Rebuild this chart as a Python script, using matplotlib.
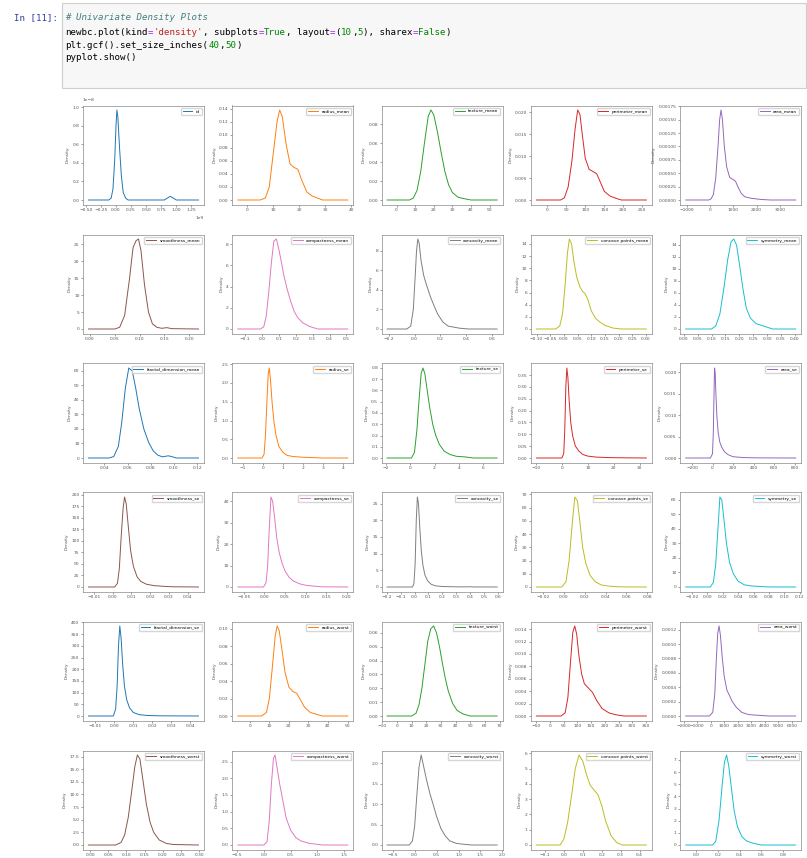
import matplotlib
matplotlib.use("Agg")
import matplotlib.pyplot as plt
from matplotlib.ticker import MaxNLocator
from matplotlib.patches import Rectangle

# ---- data (density curve knots) ----
columns = ['id', 'radius_mean', 'texture_mean', 'perimeter_mean', 'area_mean',
           'smoothness_mean', 'compactness_mean', 'concavity_mean', 'concave points_mean', 'symmetry_mean',
           'fractal_dimension_mean', 'radius_se', 'texture_se', 'perimeter_se', 'area_se',
           'smoothness_se', 'compactness_se', 'concavity_se', 'concave points_se', 'symmetry_se',
           'fractal_dimension_se', 'radius_worst', 'texture_worst', 'perimeter_worst', 'area_worst',
           'smoothness_worst', 'compactness_worst', 'concavity_worst', 'concave points_worst', 'symmetry_worst']

id_x = [-4.556e8, -1.2e8, -0.8e8, -0.5e8, -0.2e8, 0.0, 0.15e8, 0.3e8, 0.6e8, 0.9e8, 1.2e8, 1.6e8, 2.0e8,
        8.0e8, 8.5e8, 9.0e8, 9.5e8, 10.0e8, 13.67e8]
id_y = [0, 0, 0.02e-8, 0.12e-8, 0.45e-8, 0.8e-8, 0.97e-8, 0.9e-8, 0.55e-8, 0.25e-8, 0.08e-8, 0.02e-8, 0,
        0, 0.02e-8, 0.04e-8, 0.02e-8, 0, 0]

radius_mean_x = [-3.58, 5, 7, 8.5, 10, 11.5, 12.5, 13.5, 15, 16.5, 18, 19.5, 21, 23, 25, 27, 29, 38.67]
radius_mean_y = [0, 0, 0.003, 0.02, 0.07, 0.12, 0.138, 0.128, 0.085, 0.055, 0.05, 0.047, 0.03, 0.012, 0.006,
                 0.003, 0, 0]

texture_mean_x = [-5.07, 7, 9, 11, 13, 15, 17, 18.5, 20, 22, 24, 26, 28, 30, 33, 36, 40, 54.07]
texture_mean_y = [0, 0, 0.002, 0.01, 0.03, 0.06, 0.088, 0.095, 0.09, 0.072, 0.05, 0.03, 0.016, 0.008, 0.003,
                  0.0015, 0, 0]

perimeter_mean_x = [-28.6, 35, 45, 55, 65, 73, 80, 86, 92, 100, 110, 120, 130, 140, 150, 165, 180, 195, 260.9]
perimeter_mean_y = [0, 0, 0.0005, 0.003, 0.009, 0.016, 0.0205, 0.0195, 0.015, 0.0095, 0.007, 0.0065, 0.006,
                    0.004, 0.002, 0.0009, 0.0004, 0, 0]

area_mean_x = [-1035, -50, 50, 150, 250, 350, 420, 480, 540, 620, 720, 850, 1000, 1100, 1200, 1350, 1500,
               1800, 2200, 2600, 3680]
area_mean_y = [0, 0, 0.00002, 0.0001, 0.0004, 0.0010, 0.0015, 0.00168, 0.0015, 0.0010, 0.00062, 0.00042,
               0.00038, 0.00035, 0.00025, 0.00012, 0.00006, 0.00003, 0.00001, 0, 0]

smoothness_mean_x = [-0.0028, 0.05, 0.06, 0.07, 0.08, 0.087, 0.093, 0.098, 0.103, 0.11, 0.118, 0.126, 0.135,
                     0.145, 0.155, 0.165, 0.2188]
smoothness_mean_y = [0, 0, 0.5, 4, 15, 24, 26, 26.5, 23, 13, 5, 1.5, 0.5, 0.2, 0.4, 0.1, 0]

compactness_mean_x = [-0.1436, -0.01, 0.01, 0.025, 0.04, 0.055, 0.07, 0.085, 0.1, 0.115, 0.13, 0.15, 0.17,
                      0.19, 0.21, 0.24, 0.28, 0.33, 0.5084]
compactness_mean_y = [0, 0, 0.2, 1.2, 3.5, 6.2, 8.3, 8.5, 7.5, 6.3, 5.0, 3.7, 2.6, 1.7, 1.1, 0.6, 0.25, 0, 0]

concavity_mean_x = [-0.2134, -0.06, -0.03, -0.01, 0.005, 0.015, 0.025, 0.035, 0.05, 0.07, 0.09, 0.12, 0.15,
                    0.18, 0.22, 0.26, 0.3, 0.35, 0.42, 0.6402]
concavity_mean_y = [0, 0, 0.3, 2, 5.5, 8, 9.2, 8.8, 7, 5.5, 4.6, 3.4, 2.4, 1.5, 0.7, 0.3, 0.2, 0.08, 0, 0]

concave_points_mean_x = [-0.1006, -0.03, -0.015, -0.005, 0.005, 0.013, 0.02, 0.028, 0.037, 0.047, 0.058,
                         0.068, 0.078, 0.088, 0.1, 0.115, 0.13, 0.15, 0.18, 0.21, 0.3018]
concave_points_mean_y = [0, 0, 0.5, 2.5, 7.5, 12.5, 14.8, 14, 11, 8.5, 7, 6.2, 5.8, 4.8, 3, 1.8, 1.2, 0.6,
                         0.15, 0, 0]

symmetry_mean_x = [0.007, 0.1, 0.115, 0.13, 0.145, 0.158, 0.17, 0.18, 0.19, 0.2, 0.212, 0.225, 0.24, 0.26,
                   0.28, 0.3, 0.32, 0.403]
symmetry_mean_y = [0, 0, 0.5, 2.5, 7, 11.5, 14.5, 15, 14, 11, 7, 3.5, 1.8, 0.9, 0.6, 0.3, 0, 0]

fractal_dimension_mean_x = [0.02622, 0.044, 0.048, 0.052, 0.055, 0.058, 0.061, 0.064, 0.067, 0.07, 0.074,
                            0.078, 0.082, 0.086, 0.09, 0.095, 0.098, 0.102, 0.12118]
fractal_dimension_mean_y = [0, 0, 1, 8, 25, 48, 62, 60, 48, 34, 20, 11, 5, 2, 0.8, 1.5, 1, 0, 0]

radius_se_x = [-1.269, -0.05, 0.05, 0.12, 0.2, 0.26, 0.31, 0.37, 0.45, 0.55, 0.65, 0.8, 1.0, 1.2, 1.5, 2.0,
               2.5, 3.0, 4.254]
radius_se_y = [0, 0, 0.1, 0.6, 1.6, 2.25, 2.4, 2.1, 1.5, 0.95, 0.6, 0.3, 0.15, 0.07, 0.04, 0.02, 0.01, 0, 0]

texture_se_x = [-1.902, 0.1, 0.35, 0.55, 0.75, 0.9, 1.05, 1.2, 1.4, 1.6, 1.85, 2.1, 2.4, 2.8, 3.3, 3.8, 4.5,
                5.2, 7.147]
texture_se_y = [0, 0, 0.05, 0.25, 0.55, 0.75, 0.8, 0.75, 0.6, 0.45, 0.3, 0.2, 0.12, 0.06, 0.03, 0.015, 0.01,
                0, 0]

perimeter_se_x = [-9.85, 0.0, 0.7, 1.1, 1.5, 1.9, 2.3, 2.8, 3.4, 4.2, 5.2, 6.5, 8, 10, 13, 17, 22, 32.59]
perimeter_se_y = [0, 0, 0.02, 0.12, 0.3, 0.38, 0.34, 0.24, 0.15, 0.09, 0.05, 0.03, 0.015, 0.008, 0.004,
                  0.002, 0.001, 0]

area_se_x = [-260.9, -20, 0, 8, 14, 20, 26, 33, 42, 55, 70, 90, 115, 150, 200, 300, 450, 809.9]
area_se_y = [0, 0, 0.001, 0.006, 0.014, 0.021, 0.02, 0.015, 0.01, 0.006, 0.0038, 0.0025, 0.0015, 0.0008,
             0.0003, 0.0001, 0.00003, 0]

smoothness_se_x = [-0.01299, 0.001, 0.0025, 0.0035, 0.0045, 0.0055, 0.0063, 0.0072, 0.0082, 0.0095, 0.011,
                   0.013, 0.015, 0.018, 0.022, 0.027, 0.032, 0.04584]
smoothness_se_y = [0, 0, 8, 40, 110, 170, 195, 180, 135, 80, 45, 22, 12, 6, 3, 1.5, 0.5, 0]

compactness_se_x = [-0.06432, -0.002, 0.004, 0.008, 0.012, 0.016, 0.02, 0.025, 0.03, 0.036, 0.043, 0.05,
                    0.06, 0.07, 0.085, 0.1, 0.12, 0.14, 0.202]
compactness_se_y = [0, 0, 2, 10, 28, 42, 40, 32, 23, 16, 11, 7.5, 4.5, 2.8, 1.5, 0.8, 0.4, 0.1, 0]

concavity_se_x = [-0.198, -0.015, -0.005, 0.004, 0.012, 0.02, 0.028, 0.037, 0.048, 0.06, 0.075, 0.095,
                  0.12, 0.15, 0.2, 0.3, 0.38, 0.4, 0.42, 0.594]
concavity_se_y = [0, 0, 1, 7, 20, 27, 25, 18, 11, 6.5, 3.5, 1.8, 0.8, 0.35, 0.15, 0.05, 0.05, 0.08, 0.02, 0]

concave_points_se_x = [-0.0264, -0.002, 0.002, 0.005, 0.008, 0.0105, 0.013, 0.0155, 0.018, 0.021, 0.025,
                       0.03, 0.036, 0.045, 0.055, 0.0792]
concave_points_se_y = [0, 0, 4, 20, 48, 68, 65, 48, 30, 18, 9, 4, 1.5, 0.5, 0.1, 0]

symmetry_se_x = [-0.0277, 0.004, 0.008, 0.011, 0.014, 0.0165, 0.019, 0.022, 0.025, 0.029, 0.034, 0.04,
                 0.048, 0.058, 0.07, 0.08, 0.1145]
symmetry_se_y = [0, 0, 3, 15, 40, 62, 60, 45, 30, 17, 9, 4, 1.5, 0.7, 0.3, 0.05, 0]

fractal_dimension_se_x = [-0.01358, -0.0005, 0.0007, 0.0015, 0.0022, 0.0029, 0.0036, 0.0044, 0.0053,
                          0.0065, 0.008, 0.01, 0.013, 0.017, 0.022, 0.03, 0.04431]
fractal_dimension_se_y = [0, 0, 30, 130, 300, 385, 330, 220, 130, 70, 35, 15, 6, 2.5, 1, 0.5, 0]

radius_worst_x = [-6.125, 6, 8.5, 10, 11.5, 13, 14, 15, 16.5, 18, 20, 22, 24, 26, 28, 31, 34, 37, 50.1]
radius_worst_y = [0, 0, 0.004, 0.02, 0.055, 0.092, 0.103, 0.098, 0.075, 0.05, 0.033, 0.028, 0.026, 0.018,
                  0.01, 0.004, 0.002, 0, 0]

texture_worst_x = [-6.74, 10, 13, 15, 17, 19, 21, 23, 25, 27, 29, 31, 33, 35, 38, 41, 45, 50, 68.3]
texture_worst_y = [0, 0, 0.002, 0.008, 0.02, 0.037, 0.054, 0.063, 0.065, 0.06, 0.05, 0.038, 0.027, 0.018,
                   0.009, 0.004, 0.0015, 0, 0]

perimeter_worst_x = [-49.99, 40, 55, 65, 75, 83, 90, 97, 105, 115, 125, 140, 155, 170, 190, 215, 240, 270,
                     351.6]
perimeter_worst_y = [0, 0, 0.0005, 0.003, 0.009, 0.0135, 0.0145, 0.0132, 0.0098, 0.0068, 0.0052, 0.0045,
                     0.0038, 0.0025, 0.0012, 0.0005, 0.0002, 0, 0]

area_worst_x = [-1849, -100, 150, 300, 420, 520, 620, 720, 850, 1000, 1200, 1400, 1600, 1900, 2300, 2800,
                3500, 4300, 6288]
area_worst_y = [0, 0, 0.00005, 0.0003, 0.0008, 0.00115, 0.00125, 0.00112, 0.00082, 0.00055, 0.00036,
                0.00028, 0.0002, 0.00012, 0.00005, 0.00002, 0.00001, 0, 0]

smoothness_worst_x = [-0.0046, 0.07, 0.085, 0.095, 0.105, 0.115, 0.123, 0.13, 0.137, 0.145, 0.155, 0.165,
                      0.175, 0.19, 0.21, 0.23, 0.2984]
smoothness_worst_y = [0, 0, 0.5, 2, 5.5, 11, 15.5, 17.8, 17, 13, 8, 4.5, 2.5, 1, 0.3, 0.1, 0]

compactness_worst_x = [-0.488, 0.0, 0.06, 0.1, 0.14, 0.18, 0.21, 0.25, 0.3, 0.36, 0.42, 0.5, 0.6, 0.7,
                       0.85, 1.0, 1.1, 1.573]
compactness_worst_y = [0, 0, 0.1, 0.7, 1.8, 2.6, 2.7, 2.3, 1.8, 1.3, 0.8, 0.45, 0.22, 0.12, 0.05, 0.02, 0, 0]

concavity_worst_x = [-0.626, -0.12, -0.05, 0.0, 0.05, 0.1, 0.15, 0.2, 0.27, 0.35, 0.42, 0.5, 0.6, 0.7,
                     0.8, 0.95, 1.1, 1.3, 1.878]
concavity_worst_y = [0, 0, 0.1, 0.45, 1.2, 1.9, 2.2, 1.95, 1.6, 1.25, 1.0, 0.7, 0.4, 0.22, 0.1, 0.04, 0.02,
                     0, 0]

concave_points_worst_x = [-0.1455, -0.02, 0.0, 0.02, 0.04, 0.06, 0.08, 0.1, 0.12, 0.14, 0.16, 0.18, 0.2,
                          0.22, 0.25, 0.28, 0.31, 0.4365]
concave_points_worst_y = [0, 0, 0.4, 1.5, 3.2, 5, 5.9, 5.5, 4.6, 3.9, 3.6, 3.3, 2.6, 1.6, 0.6, 0.15, 0, 0]

symmetry_worst_x = [-0.097, 0.15, 0.18, 0.21, 0.24, 0.26, 0.28, 0.3, 0.32, 0.35, 0.38, 0.42, 0.46, 0.52,
                    0.6, 0.917]
symmetry_worst_y = [0, 0, 0.3, 2, 5, 6.8, 7.4, 6.5, 5.0, 2.8, 1.5, 0.7, 0.35, 0.15, 0, 0]

curves = [
    (id_x, id_y), (radius_mean_x, radius_mean_y), (texture_mean_x, texture_mean_y),
    (perimeter_mean_x, perimeter_mean_y), (area_mean_x, area_mean_y),
    (smoothness_mean_x, smoothness_mean_y), (compactness_mean_x, compactness_mean_y),
    (concavity_mean_x, concavity_mean_y), (concave_points_mean_x, concave_points_mean_y),
    (symmetry_mean_x, symmetry_mean_y),
    (fractal_dimension_mean_x, fractal_dimension_mean_y), (radius_se_x, radius_se_y),
    (texture_se_x, texture_se_y), (perimeter_se_x, perimeter_se_y), (area_se_x, area_se_y),
    (smoothness_se_x, smoothness_se_y), (compactness_se_x, compactness_se_y),
    (concavity_se_x, concavity_se_y), (concave_points_se_x, concave_points_se_y),
    (symmetry_se_x, symmetry_se_y),
    (fractal_dimension_se_x, fractal_dimension_se_y), (radius_worst_x, radius_worst_y),
    (texture_worst_x, texture_worst_y), (perimeter_worst_x, perimeter_worst_y),
    (area_worst_x, area_worst_y),
    (smoothness_worst_x, smoothness_worst_y), (compactness_worst_x, compactness_worst_y),
    (concavity_worst_x, concavity_worst_y), (concave_points_worst_x, concave_points_worst_y),
    (symmetry_worst_x, symmetry_worst_y),
]

# ---- notebook cell text ----
code_lines = [
    [("# Univariate Density Plots", "#408080", "italic")],
    [("newbc.plot(kind", "#000000", "normal"), ("=", "#AA22FF", "normal"), ("'density'", "#BA2121", "normal"),
     (", subplots", "#000000", "normal"), ("=", "#AA22FF", "normal"), ("True", "#008000", "normal"),
     (", layout", "#000000", "normal"), ("=", "#AA22FF", "normal"), ("(", "#000000", "normal"),
     ("10", "#008800", "normal"), (",", "#000000", "normal"), ("5", "#008800", "normal"),
     ("), sharex", "#000000", "normal"), ("=", "#AA22FF", "normal"), ("False", "#008000", "normal"),
     (")", "#000000", "normal")],
    [("plt.gcf().set_size_inches(", "#000000", "normal"), ("40", "#008800", "normal"),
     (",", "#000000", "normal"), ("50", "#008800", "normal"), (")", "#000000", "normal")],
    [("pyplot.show()", "#000000", "normal")],
]

W, H = 807, 858
plt.rcParams.update({
    'font.size': 3.2,
    'axes.linewidth': 0.5,
    'axes.edgecolor': '#888888',
    'xtick.major.size': 1.3,
    'ytick.major.size': 1.3,
    'xtick.major.width': 0.4,
    'ytick.major.width': 0.4,
    'xtick.major.pad': 1.0,
    'ytick.major.pad': 1.2,
    'xtick.color': '#555555',
    'ytick.color': '#555555',
    'axes.labelcolor': '#555555',
    'axes.labelpad': 2,
})
colors = plt.rcParams['axes.prop_cycle'].by_key()['color']

fig = plt.figure(figsize=(W / 100, H / 100), dpi=100)

# code cell box
fig.patches.append(Rectangle((62 / W, 1 - 88 / H), 744 / W, 85 / H, transform=fig.transFigure,
                             facecolor='#f7f7f7', edgecolor='#cfcfcf', linewidth=0.8))
fig.text(58 / W, 1 - 18 / H, "In [11]:", color='#303F9F', family='DejaVu Sans Mono',
         fontsize=6.6, ha='right', va='center')
code_fs = 6.6
char_w = 0.602 * code_fs * 100 / 72
line_y = [17.5, 32.5, 45.5, 58]
for ln, tokens in enumerate(code_lines):
    pos = 0
    for text, col, style in tokens:
        fig.text((65 + pos * char_w) / W, 1 - line_y[ln] / H, text, color=col, style=style,
                 family='DejaVu Sans Mono', fontsize=code_fs, va='center')
        pos += len(text)

# density subplots, 6 visible rows of the 10x5 layout
left0, col_step, ax_w = 83, 149.3, 121
top0, row_step, ax_h = 105.5, 129, 99
for i, (xs, ys) in enumerate(curves):
    r, c = divmod(i, 5)
    left = left0 + c * col_step
    top = top0 + r * row_step
    ax = fig.add_axes([left / W, 1 - (top + ax_h) / H, ax_w / W, ax_h / H])
    ax.plot(xs, ys, color=colors[i % 10], lw=0.7, label=columns[i])
    ax.set_ylabel('Density')
    ax.xaxis.set_major_locator(MaxNLocator(nbins=9, steps=[1, 2, 2.5, 5, 10]))
    ax.yaxis.set_major_locator(MaxNLocator(nbins=9, steps=[1, 2, 2.5, 5, 10]))
    ax.legend(loc='upper right', fontsize=3.2, handlelength=2.2, borderpad=0.4, framealpha=0.8)

fig.savefig('out.png', dpi=100)
